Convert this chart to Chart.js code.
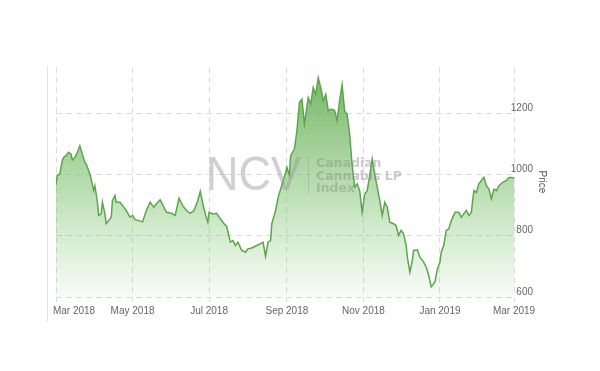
<!DOCTYPE html>
<html>
<head>
<meta charset="utf-8">
<script src="https://cdn.jsdelivr.net/npm/chart.js@4.4.1/dist/chart.umd.min.js"></script>
<style>
  html, body { margin: 0; padding: 0; background: #fff; }
  #wrap { width: 600px; height: 371px; position: relative; }
</style>
</head>
<body>
<div id="wrap"><canvas id="chart" width="600" height="371"></canvas></div>
<script>
// price of the index
const dates = [
  '2018-03-01','2018-03-02','2018-03-04','2018-03-06','2018-03-07','2018-03-09','2018-03-11','2018-03-13',
  '2018-03-14','2018-03-16','2018-03-18','2018-03-20','2018-03-22','2018-03-24','2018-03-25','2018-03-28',
  '2018-03-29','2018-03-31','2018-04-01','2018-04-03','2018-04-04','2018-04-06','2018-04-07','2018-04-09',
  '2018-04-10','2018-04-12','2018-04-14','2018-04-15','2018-04-17','2018-04-18','2018-04-21','2018-04-24',
  '2018-04-26','2018-04-29','2018-05-01','2018-05-03','2018-05-06','2018-05-09','2018-05-12','2018-05-15',
  '2018-05-18','2018-05-20','2018-05-23','2018-05-26','2018-05-28','2018-06-01','2018-06-04','2018-06-07',
  '2018-06-10','2018-06-13','2018-06-16','2018-06-19','2018-06-22','2018-06-24','2018-06-26','2018-06-28',
  '2018-06-30','2018-07-01','2018-07-04','2018-07-07','2018-07-10','2018-07-13','2018-07-15','2018-07-18',
  '2018-07-20','2018-07-22','2018-07-24','2018-07-27','2018-07-30','2018-08-01','2018-08-04','2018-08-08',
  '2018-08-11','2018-08-13','2018-08-15','2018-08-17','2018-08-19','2018-08-20','2018-08-23','2018-08-25',
  '2018-08-28','2018-08-31','2018-09-01','2018-09-03','2018-09-04','2018-09-07','2018-09-09','2018-09-11',
  '2018-09-13','2018-09-15','2018-09-18','2018-09-20','2018-09-22','2018-09-24','2018-09-26','2018-09-28',
  '2018-09-30','2018-10-02','2018-10-04','2018-10-06','2018-10-09','2018-10-11','2018-10-13','2018-10-15',
  '2018-10-17','2018-10-19','2018-10-21','2018-10-23','2018-10-25','2018-10-27','2018-10-29','2018-10-31',
  '2018-11-02','2018-11-04','2018-11-06','2018-11-08','2018-11-10','2018-11-12','2018-11-14','2018-11-16',
  '2018-11-18','2018-11-20','2018-11-22','2018-11-25','2018-11-27','2018-11-29','2018-12-01','2018-12-03',
  '2018-12-05','2018-12-06','2018-12-08','2018-12-10','2018-12-11','2018-12-14','2018-12-16','2018-12-19',
  '2018-12-21','2018-12-23','2018-12-25','2018-12-26','2018-12-28','2018-12-30','2019-01-01','2019-01-02',
  '2019-01-04','2019-01-06','2019-01-08','2019-01-10','2019-01-13','2019-01-16','2019-01-18','2019-01-20',
  '2019-01-22','2019-01-24','2019-01-26','2019-01-28','2019-01-30','2019-02-01','2019-02-03','2019-02-05',
  '2019-02-07','2019-02-09','2019-02-11','2019-02-13','2019-02-15','2019-02-17','2019-02-20','2019-02-23',
  '2019-02-25','2019-02-27','2019-03-01'
];
const prices = [
  965, 996, 1001, 1045, 1055, 1061, 1072, 1066,
  1047, 1055, 1072, 1093, 1066, 1039, 1034, 1001,
  985, 947, 963, 909, 866, 871, 909, 871,
  839, 849, 860, 915, 931, 909, 909, 893,
  882, 860, 866, 852, 849, 845, 882, 909,
  893, 904, 917, 893, 876, 873, 866, 922,
  898, 882, 873, 882, 915, 945, 904, 871,
  844, 876, 871, 873, 855, 839, 830, 779,
  784, 768, 779, 752, 746, 757, 760, 768,
  774, 779, 733, 779, 784, 839, 882, 925,
  965, 1005, 1023, 996, 1061, 1083, 1142, 1235,
  1245, 1164, 1250, 1229, 1283, 1261, 1315, 1283,
  1240, 1261, 1207, 1213, 1209, 1175, 1240, 1292,
  1207, 1196, 1131, 1030, 958, 969, 947, 876,
  936, 947, 996, 1050, 1001, 958, 915, 866,
  909, 893, 844, 839, 833, 801, 817, 806,
  768, 730, 681, 719, 752, 754, 730, 714,
  698, 671, 633, 638, 649, 692, 714, 746,
  768, 817, 822, 849, 876, 876, 860, 871,
  882, 866, 876, 947, 941, 969, 980, 990,
  963, 952, 920, 952, 947, 963, 974, 980,
  990, 990, 988
];
const tickDates = ['2018-03-01','2018-05-01','2018-07-01','2018-09-01','2018-11-01','2019-01-01','2019-03-01'];
const tickLabels = ['Mar 2018','May 2018','Jul 2018','Sep 2018','Nov 2018','Jan 2019','Mar 2019'];
const priceTicks = [600, 800, 1000, 1200];

const start = Date.UTC(2018, 2, 1);
function dayOf(s) {
  const p = s.split('-').map(Number);
  return (Date.UTC(p[0], p[1] - 1, p[2]) - start) / 86400000;
}
const points = dates.map((d, i) => ({ x: dayOf(d), y: prices[i] }));
const tickDays = tickDates.map(dayOf);

const labelFont = { family: "'Liberation Sans Narrow', 'Liberation Sans', Arial, sans-serif", size: 10 };
const gridColor = '#dcdcdc';

// NCV watermark, left border and the y axis title
const decor = {
  id: 'decor',
  afterDatasetsDraw(chart) {
    const ctx = chart.ctx;
    ctx.save();
    ctx.strokeStyle = '#e2e2e2';
    ctx.lineWidth = 1;
    ctx.beginPath();
    ctx.moveTo(47.5, 66);
    ctx.lineTo(47.5, 322);
    ctx.stroke();

    ctx.fillStyle = 'rgba(150,150,150,0.45)';
    ctx.textBaseline = 'alphabetic';
    ctx.save();
    ctx.translate(206, 190);
    ctx.scale(0.92, 1);
    ctx.font = "49px 'Liberation Sans', Arial, sans-serif";
    ctx.fillText('NCV', 0, 0);
    ctx.restore();

    ctx.strokeStyle = 'rgba(150,150,150,0.4)';
    ctx.beginPath();
    ctx.moveTo(308.5, 156);
    ctx.lineTo(308.5, 193);
    ctx.stroke();

    ctx.fillStyle = 'rgba(140,140,140,0.45)';
    ctx.font = "bold 12.5px 'DejaVu Sans', sans-serif";
    ctx.fillText('Canadian', 316, 167);
    ctx.fillText('Cannabis LP', 316, 179.5);
    ctx.fillText('Index', 316, 192);

    ctx.fillStyle = '#555';
    ctx.font = "10px 'Liberation Sans Narrow', 'Liberation Sans', sans-serif";
    ctx.translate(542, 182);
    ctx.rotate(Math.PI / 2);
    ctx.textAlign = 'center';
    ctx.textBaseline = 'middle';
    ctx.fillText('Price', 0, 0);
    ctx.restore();
  }
};

const ctx = document.getElementById('chart').getContext('2d');
new Chart(ctx, {
  type: 'line',
  data: {
    datasets: [{
      label: 'Price',
      data: points,
      borderColor: '#5ca64a',
      borderWidth: 1.5,
      pointRadius: 0,
      tension: 0,
      fill: 'start',
      backgroundColor: (c) => {
        const area = c.chart.chartArea;
        if (!area) return 'rgba(92,166,74,0.4)';
        const g = c.chart.ctx.createLinearGradient(0, area.top, 0, area.bottom);
        g.addColorStop(0, 'rgba(86,165,66,0.85)');
        g.addColorStop(0.5, 'rgba(110,185,95,0.5)');
        g.addColorStop(1, 'rgba(120,195,105,0.06)');
        return g;
      }
    }]
  },
  options: {
    responsive: false,
    animation: false,
    layout: { padding: { left: 56, top: 67, right: 67, bottom: 0 } },
    plugins: { legend: { display: false }, tooltip: { enabled: false } },
    scales: {
      x: {
        type: 'linear',
        min: 0,
        max: 365,
        afterBuildTicks: (s) => { s.ticks = tickDays.map(v => ({ value: v })); },
        afterFit: (s) => { s.height = 74; },
        grid: { color: gridColor, tickLength: 5, drawTicks: true },
        border: { display: false, dash: [6, 4] },
        ticks: {
          font: labelFont,
          color: '#666',
          padding: 3,
          maxRotation: 0,
          autoSkip: false,
          callback: (v) => {
            const i = tickDays.indexOf(v);
            if (i < 0) return '';
            // first label sits inside the plot, like the original
            return i === 0 ? '             ' + tickLabels[i] : tickLabels[i];
          }
        }
      },
      y: {
        position: 'right',
        min: 600,
        max: 1350,
        afterBuildTicks: (s) => { s.ticks = priceTicks.map(v => ({ value: v })); },
        afterFit: (s) => { s.width = 19; },
        grid: { color: gridColor, drawTicks: false },
        border: { display: false, dash: [6, 4] },
        ticks: {
          font: labelFont,
          color: '#666',
          mirror: true,
          crossAlign: 'near',
          padding: 19,
          labelOffset: -5,
          callback: (v) => String(v)
        }
      }
    }
  },
  plugins: [decor]
});
</script>
</body>
</html>
